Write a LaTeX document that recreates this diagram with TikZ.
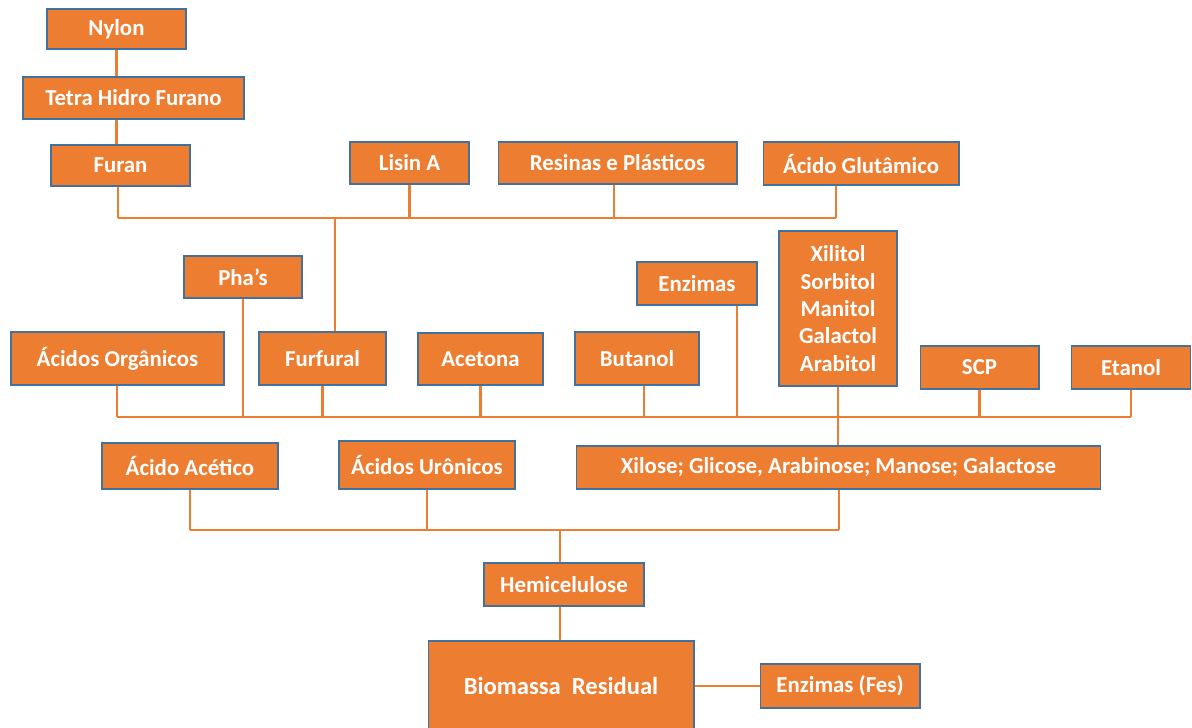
\documentclass[tikz,border=0pt]{standalone}
\usepackage{fontspec}
\setmainfont{Carlito}
\definecolor{laranja}{HTML}{ED7D31}
\definecolor{borda}{HTML}{41719C}
\tikzset{
  caixa/.style={draw=borda, line width=0.6pt, fill=laranja, text=white,
    font=\bfseries\fontsize{13}{15.6}\selectfont, align=center,
    inner sep=0pt},
  linha/.style={draw=laranja, line width=1.3pt}
}
\begin{document}
\begin{tikzpicture}[x=0.02cm, y=-0.02cm]
        \useasboundingbox (0,0) rectangle (1192,727);

        % Top row: furan chain and products
        \node[caixa, minimum width=2.78cm, minimum height=0.80cm] (nylon) at (116.5,29) {Nylon};
        \node[caixa, minimum width=4.42cm, minimum height=0.84cm] (tetra) at (133.5,98) {Tetra Hidro Furano};
        \node[caixa, minimum width=2.78cm, minimum height=0.82cm] (furan) at (120.5,165.5) {Furan};
        \node[caixa, minimum width=2.38cm, minimum height=0.84cm] (lisina) at (409.5,163) {Lisin A};
        \node[caixa, minimum width=4.78cm, minimum height=0.84cm] (resinas) at (617.5,163) {Resinas e Plásticos};
        \node[caixa, minimum width=3.92cm, minimum height=0.86cm] (glutamico) at (861,163.5) {Ácido Glutâmico};

        % Middle row: fermentation products
        \node[caixa, minimum width=2.36cm, minimum height=0.84cm] (phas) at (243,277) {Pha’s};
        \node[caixa, minimum width=2.40cm, minimum height=0.86cm] (enzimas) at (697,283.5) {Enzimas};
        \node[caixa, minimum width=2.36cm, minimum height=3.10cm] (poliois) at (838,308.5) {Xilitol\\Sorbitol\\Manitol\\Galactol\\Arabitol};
        \node[caixa, minimum width=4.26cm, minimum height=1.06cm] (organicos) at (117.5,358.5) {Ácidos Orgânicos};
        \node[caixa, minimum width=2.54cm, minimum height=1.06cm] (furfural) at (322.5,358.5) {Furfural};
        \node[caixa, minimum width=2.50cm, minimum height=1.04cm] (acetona) at (480.5,359) {Acetona};
        \node[caixa, minimum width=2.48cm, minimum height=1.06cm] (butanol) at (637,358.5) {Butanol};
        \node[caixa, minimum width=2.38cm, minimum height=0.86cm] (scp) at (979.5,367.5) {SCP};
        \node[caixa, minimum width=2.38cm, minimum height=0.86cm] (etanol) at (1131,367.5) {Etanol};

        % Hemicellulose fractions
        \node[caixa, minimum width=3.52cm, minimum height=0.92cm] (acetico) at (190,466) {Ácido Acético};
        \node[caixa, minimum width=3.52cm, minimum height=0.96cm] (uronicos) at (427,465) {Ácidos Urônicos};
        \node[caixa, minimum width=10.50cm, minimum height=0.86cm] (acucares) at (838.5,467.5) {Xilose; Glicose, Arabinose; Manose; Galactose};
        \node[caixa, minimum width=3.20cm, minimum height=0.86cm] (hemi) at (564,584.5) {Hemicelulose};
        \node[caixa, minimum width=5.32cm, minimum height=1.80cm, font=\bfseries\fontsize{14}{17}\selectfont] (biomassa) at (561,686) {Biomassa\ \ Residual};
        \node[caixa, minimum width=3.20cm, minimum height=0.88cm] (fes) at (840,686) {Enzimas (Fes)};

        % Bus lines
        \coordinate (barraA) at (118,218);
        \coordinate (barraAfim) at (836,218);
        \coordinate (furfA) at (335,218);
        \coordinate (resA) at (614,218);
        \coordinate (barraB) at (117,417);
        \coordinate (barraBfim) at (1131,417);
        \coordinate (butB) at (644,417);
        \coordinate (enzB) at (737,417);
        \coordinate (barraC) at (190,530);
        \coordinate (barraCfim) at (839,530);
        \coordinate (hemiC) at (560,530);

        % Furan chain
        \draw[linha] (nylon.south) -- (nylon.south |- tetra.north);
        \draw[linha] (tetra.south -| nylon.south) -- (furan.north -| nylon.south);

        % Upper bus
        \draw[linha] (barraA) -- (barraAfim);
        \draw[linha] (furan.south -| barraA) -- (barraA);
        \draw[linha] (lisina.south) -- (lisina.south |- barraA);
        \draw[linha] (resinas.south -| resA) -- (resA);
        \draw[linha] (glutamico.south -| barraAfim) -- (barraAfim);
        \draw[linha] (furfA) -- (furfural.north -| furfA);

        % Middle bus
        \draw[linha] (barraB) -- (barraBfim);
        \draw[linha] (organicos.south -| barraB) -- (barraB);
        \draw[linha] (phas.south) -- (phas.south |- barraB);
        \draw[linha] (furfural.south) -- (furfural.south |- barraB);
        \draw[linha] (acetona.south) -- (acetona.south |- barraB);
        \draw[linha] (butanol.south -| butB) -- (butB);
        \draw[linha] (enzimas.south -| enzB) -- (enzB);
        \draw[linha] (poliois.south) -- (acucares.north -| poliois.south);
        \draw[linha] (scp.south) -- (scp.south |- barraB);
        \draw[linha] (etanol.south -| barraBfim) -- (barraBfim);

        % Lower bus
        \draw[linha] (barraC) -- (barraCfim);
        \draw[linha] (acetico.south) -- (acetico.south |- barraC);
        \draw[linha] (uronicos.south) -- (uronicos.south |- barraC);
        \draw[linha] (acucares.south -| barraCfim) -- (barraCfim);
        \draw[linha] (hemiC) -- (hemi.north -| hemiC);

        % Biomass
        \draw[linha] (hemi.south -| hemiC) -- (biomassa.north -| hemiC);
        \draw[linha] (biomassa) -- (fes);
\end{tikzpicture}
\end{document}
